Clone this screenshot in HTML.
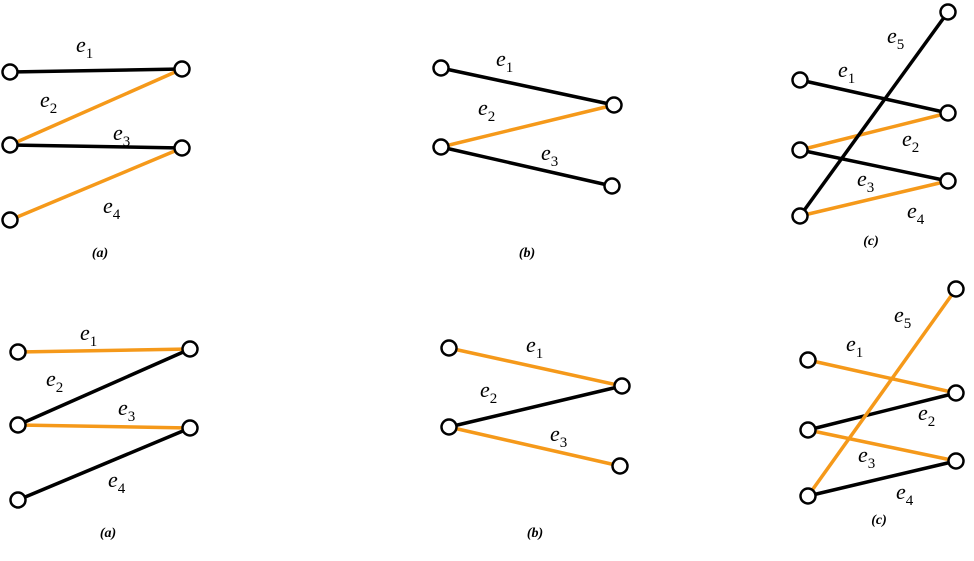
<!DOCTYPE html>
<html><head><meta charset="utf-8">
<style>
html,body{margin:0;padding:0;background:#fff;}
svg{display:block;}
.lbl{font-family:"Liberation Serif",serif;font-style:italic;font-size:22px;fill:#000;}
.sub{font-size:15px;font-style:normal;}
.cap{font-family:"Liberation Serif",serif;font-style:italic;font-weight:bold;font-size:14px;fill:#000;}
</style></head>
<body>
<svg id="fig" width="974" height="561" viewBox="0 0 974 561"></svg>
<script>
const BLACK = "#000", ORANGE = "#f5991a";
const panelNames = ["top-a","top-b","top-c","bottom-a","bottom-b","bottom-c"];
const panelNodes = [
  [[10,72],[182,69],[10,145],[182,148],[10,220]],
  [[441,68],[614,105],[441,147],[612,186]],
  [[800,80],[948,113],[800,150],[948,181],[800,216],[948,12]],
  [[18,352],[190,349],[18,425],[190,428],[18,500]],
  [[449,348],[622,386],[449,427],[620,466]],
  [[808,360],[956,393],[808,430],[956,461],[808,496],[956,289]]
];
const panelEdges = [
  [[0,1,"k"],[2,1,"o"],[2,3,"k"],[4,3,"o"]],
  [[0,1,"k"],[2,1,"o"],[2,3,"k"]],
  [[0,1,"k"],[2,1,"o"],[2,3,"k"],[4,3,"o"],[4,5,"k"]],
  [[0,1,"o"],[2,1,"k"],[2,3,"o"],[4,3,"k"]],
  [[0,1,"o"],[2,1,"k"],[2,3,"o"]],
  [[0,1,"o"],[2,1,"k"],[2,3,"o"],[4,3,"k"],[4,5,"o"]]
];
const panelLabels = [
  [[76,52],[40,107],[113,140],[103,213]],
  [[496,66],[478,115],[541,160]],
  [[838,77],[902,146],[857,186],[907,218],[887,43]],
  [[80,340],[46,386],[118,415],[108,487]],
  [[526,352],[480,397],[550,441]],
  [[846,351],[918,420],[858,462],[896,499],[894,322]]
];
const captions = [["(a)",100,257],["(b)",527,257],["(c)",871,245],["(a)",108,537],["(b)",535,537],["(c)",879,524]];
const svg = document.getElementById("fig");
const NS = "http://www.w3.org/2000/svg";
function mk(tag, attrs){const e=document.createElementNS(NS,tag);for(const k in attrs)e.setAttribute(k,attrs[k]);return e;}
panelNames.forEach((pn,pi)=>{
  const g = mk("g",{});
  
  
  svg.appendChild(g);
  const nodes = panelNodes[pi];
  panelEdges[pi].forEach((ed,ei)=>{
    const a=nodes[ed[0]], b=nodes[ed[1]];
    const l = mk("line",{x1:a[0],y1:a[1],x2:b[0],y2:b[1],stroke:ed[2]==="k"?BLACK:ORANGE,"stroke-width":3.5});
    
    
    g.appendChild(l);
    const lp = panelLabels[pi][ei];
    const t = mk("text",{x:lp[0],y:lp[1],class:"lbl"});
    t.innerHTML = 'e<tspan class="sub" dy="6">'+(ei+1)+'</tspan>';
    
    
    g.appendChild(t);
  });
  nodes.forEach((n,ni)=>{
    const c = mk("circle",{cx:n[0],cy:n[1],r:7.5,fill:"#fff",stroke:"#000","stroke-width":2.5});
    
    
    g.appendChild(c);
  });
  const cp = captions[pi];
  const t = mk("text",{x:cp[1],y:cp[2],class:"cap","text-anchor":"middle"});
  t.textContent = cp[0];
  
  
  g.appendChild(t);
});
</script>
</body></html>
